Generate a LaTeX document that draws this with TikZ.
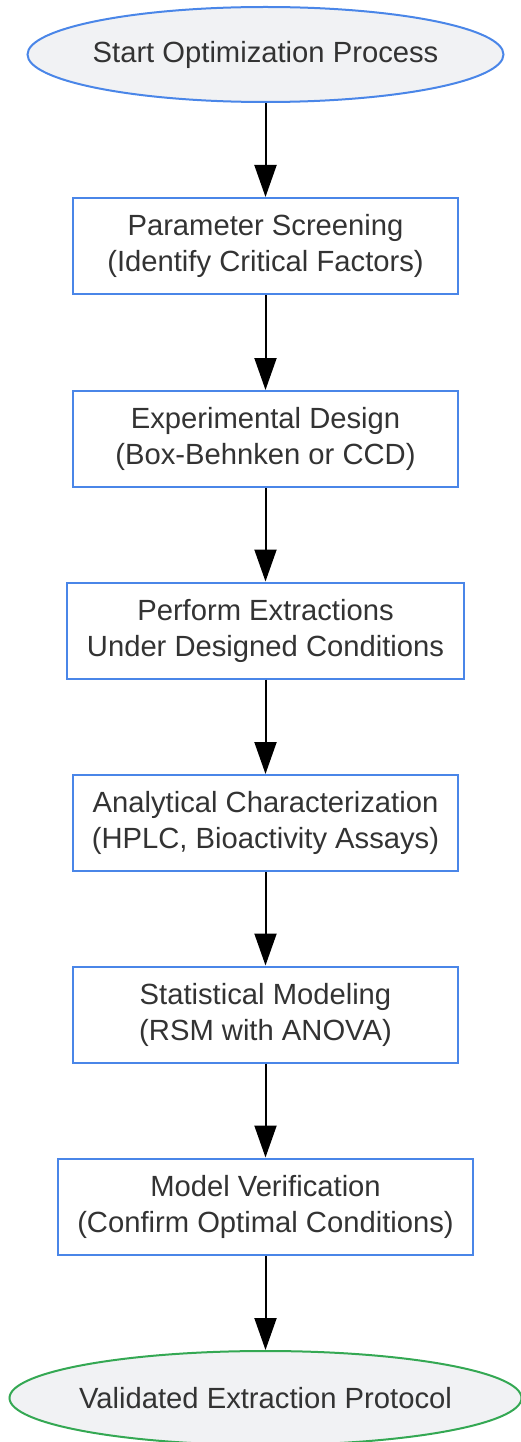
\documentclass[tikz,border=0pt]{standalone}
\usepackage{fontspec}
\setmainfont{Liberation Sans}
\usetikzlibrary{shapes.geometric,arrows.meta}
\definecolor{txt}{HTML}{333333}
\definecolor{bblue}{HTML}{4A86E8}
\definecolor{bgreen}{HTML}{34A853}
\definecolor{efill}{HTML}{F1F2F4}
\tikzset{
  base/.style={font=\fontsize{29.2}{36}\selectfont, text=txt, align=center, inner sep=0pt, line width=2pt},
  stepbox/.style={base, rectangle, draw=bblue, fill=white, minimum height=96pt},
  startnode/.style={base, ellipse, draw=bblue, fill=efill},
  endnode/.style={base, ellipse, draw=bgreen, fill=efill},
  flow/.style={-{Triangle[length=32pt,width=22pt]}, line width=2pt, black}
}
\begin{document}
\begin{tikzpicture}[x=1pt,y=-1pt]
\useasboundingbox (0,0) rectangle (520,1442);
\node[startnode, minimum width=476pt, minimum height=95pt] (s) at (265.5,54.5) {\makebox[0pt]{Start Optimization Process}};
\node[stepbox, minimum width=385pt] (b1) at (265.5,246) {Parameter Screening\\(Identify Critical Factors)};
\node[stepbox, minimum width=385pt] (b2) at (265.5,439) {Experimental Design\\(Box-Behnken or CCD)};
\node[stepbox, minimum width=397pt] (b3) at (265.5,630.5) {Perform Extractions\\Under Designed Conditions};
\node[stepbox, minimum width=385pt] (b4) at (265.5,823) {Analytical Characterization\\(HPLC, Bioactivity Assays)};
\node[stepbox, minimum width=385pt] (b5) at (265.5,1014.5) {Statistical Modeling\\(RSM with ANOVA)};
\node[stepbox, minimum width=415pt] (b6) at (265.5,1206.5) {Model Verification\\(Confirm Optimal Conditions)};
\node[endnode, minimum width=512pt, minimum height=94pt] (e) at (265.5,1398) {\makebox[0pt]{Validated Extraction Protocol}};
\draw[flow] (s.south) -- (b1.north);
\draw[flow] (b1.south) -- (b2.north);
\draw[flow] (b2.south) -- (b3.north);
\draw[flow] (b3.south) -- (b4.north);
\draw[flow] (b4.south) -- (b5.north);
\draw[flow] (b5.south) -- (b6.north);
\draw[flow] (b6.south) -- (e.north);
\end{tikzpicture}
\end{document}
